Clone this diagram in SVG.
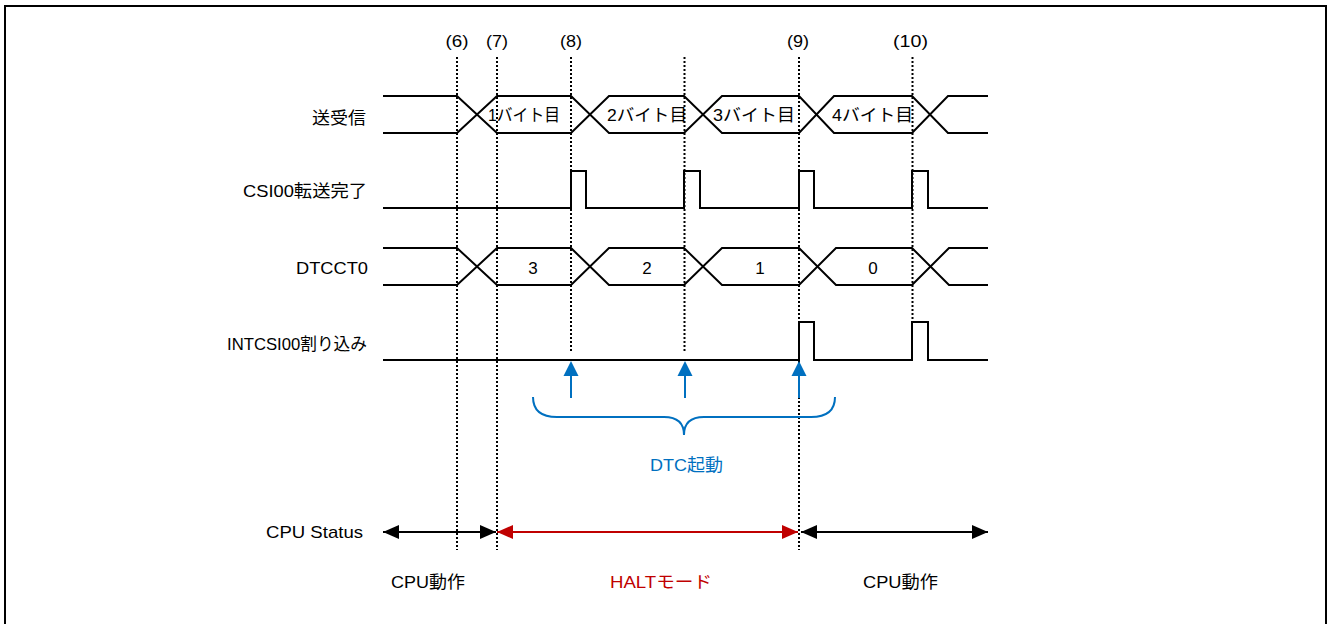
<svg xmlns="http://www.w3.org/2000/svg" width="1328" height="624" viewBox="0 0 1328 624">
<defs>
<style>
text{font-family:"Liberation Sans","Noto Sans CJK JP",sans-serif;font-size:17px;fill:#000}
.sig{fill:none;stroke:#000;stroke-width:2;stroke-linejoin:miter}
.dot{fill:none;stroke:#000;stroke-width:2;stroke-dasharray:2 2}
.blue{fill:#0070C0}
.red{fill:#C00000}
.lab{text-anchor:end}
.mid{text-anchor:middle}
</style>
<marker id="ab" viewBox="0 0 16 14" refX="16" refY="7" markerWidth="16" markerHeight="14" markerUnits="userSpaceOnUse" orient="auto-start-reverse"><path d="M0,0 L16,7 L0,14 Z" fill="#000"/></marker>
<marker id="ar" viewBox="0 0 16 14" refX="16" refY="7" markerWidth="16" markerHeight="14" markerUnits="userSpaceOnUse" orient="auto-start-reverse"><path d="M0,0 L16,7 L0,14 Z" fill="#C00000"/></marker>
</defs>
<rect x="5" y="6" width="1321" height="640" fill="#fff" stroke="#000" stroke-width="2"/>

<g id="markers">
<text class="mid" x="457" y="47" textLength="23" lengthAdjust="spacingAndGlyphs">(6)</text>
<text class="mid" x="497" y="47" textLength="22" lengthAdjust="spacingAndGlyphs">(7)</text>
<text class="mid" x="571" y="47" textLength="22" lengthAdjust="spacingAndGlyphs">(8)</text>
<text class="mid" x="798" y="47" textLength="22" lengthAdjust="spacingAndGlyphs">(9)</text>
<text class="mid" x="910.5" y="47" textLength="35" lengthAdjust="spacingAndGlyphs">(10)</text>
<line class="dot" x1="457" y1="57" x2="457" y2="550"/>
<line class="dot" x1="497" y1="57" x2="497" y2="550"/>
<line class="dot" x1="571" y1="57" x2="571" y2="353"/>
<line class="dot" x1="684.5" y1="57" x2="684.5" y2="353"/>
<line class="dot" x1="799" y1="57" x2="799" y2="550"/>
<line class="dot" x1="912.5" y1="57" x2="912.5" y2="322"/>
</g>

<g id="labels">
<text class="lab" x="366" y="124" textLength="54" lengthAdjust="spacingAndGlyphs">送受信</text>
<text class="lab" x="367" y="197" textLength="124" lengthAdjust="spacingAndGlyphs">CSI00転送完了</text>
<text class="lab" x="368" y="274" textLength="72" lengthAdjust="spacingAndGlyphs">DTCCT0</text>
<text class="lab" x="367" y="350" textLength="140" lengthAdjust="spacingAndGlyphs">INTCSI00割り込み</text>
<text class="lab" x="363" y="538" textLength="97" lengthAdjust="spacingAndGlyphs">CPU Status</text>
</g>

<g id="sig-txrx">
<path class="sig" d="M383,96 H457 L497,133 H571 L609,96 H684 L722,133 H799 L834,96 H912 L948,133 H988"/>
<path class="sig" d="M383,133 H457 L497,96 H571 L609,133 H684 L722,96 H799 L834,133 H912 L948,96 H988"/>
<text x="488" y="121" textLength="72" lengthAdjust="spacingAndGlyphs">1バイト目</text>
<text x="607" y="121" textLength="80" lengthAdjust="spacingAndGlyphs">2バイト目</text>
<text x="713" y="121" textLength="82" lengthAdjust="spacingAndGlyphs">3バイト目</text>
<text x="832" y="121" textLength="81" lengthAdjust="spacingAndGlyphs">4バイト目</text>
</g>

<g id="sig-csi00">
<path class="sig" d="M383,208 H571 V171 H586 V208 H684 V171 H700 V208 H799 V171 H814 V208 H912 V171 H928 V208 H988"/>
</g>

<g id="sig-dtcct0">
<path class="sig" d="M383,248 H457 L497,285 H571 L609,248 H684 L722,285 H799 L836,248 H912 L949,285 H988"/>
<path class="sig" d="M383,285 H457 L497,248 H571 L609,285 H684 L722,248 H799 L836,285 H912 L949,248 H988"/>
<text class="mid" x="533" y="274">3</text>
<text class="mid" x="647" y="274">2</text>
<text class="mid" x="760" y="274">1</text>
<text class="mid" x="873" y="274">0</text>
</g>

<g id="sig-intcsi00">
<path class="sig" d="M383,360 H799 V322 H814 V360 H912 V322 H928 V360 H988"/>
</g>

<g id="dtc">
<g fill="#0070C0" stroke="none">
<path d="M571,361 L578.5,376 L563.5,376 Z"/>
<path d="M685,361 L692.5,376 L677.5,376 Z"/>
<path d="M799,361 L806.5,376 L791.5,376 Z"/>
</g>
<g stroke="#0070C0" stroke-width="2" fill="none">
<line x1="571" y1="375" x2="571" y2="398"/>
<line x1="685" y1="375" x2="685" y2="398"/>
<line x1="799" y1="375" x2="799" y2="398"/>
<path d="M533,397 Q533,417 557,417 L664,417 Q684,417 684,435 Q684,417 704,417 L811,417 Q835,417 835,397"/>
</g>
<text class="mid blue" x="686.5" y="471" textLength="73" lengthAdjust="spacingAndGlyphs">DTC起動</text>
</g>

<g id="connectors">
<line x1="383" y1="532" x2="496" y2="532" stroke="#000" stroke-width="2" marker-start="url(#ab)" marker-end="url(#ab)"/>
<line x1="497" y1="532" x2="798" y2="532" stroke="#C00000" stroke-width="2" marker-start="url(#ar)" marker-end="url(#ar)"/>
<line x1="801" y1="532" x2="988" y2="532" stroke="#000" stroke-width="2" marker-start="url(#ab)" marker-end="url(#ab)"/>
</g>

<g id="status">
<text x="391" y="588" textLength="74" lengthAdjust="spacingAndGlyphs">CPU動作</text>
<text class="red" x="610" y="588" textLength="102" lengthAdjust="spacingAndGlyphs">HALTモード</text>
<text x="863" y="588" textLength="75" lengthAdjust="spacingAndGlyphs">CPU動作</text>
</g>
</svg>
